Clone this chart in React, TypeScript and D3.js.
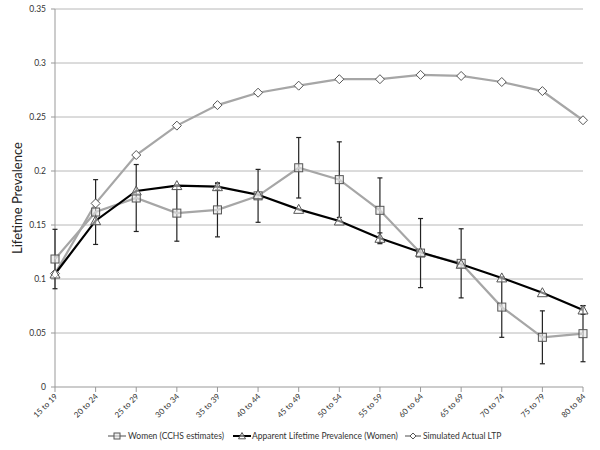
import React from "react";
import * as d3 from "d3";

const categories = ["15 to 19","20 to 24","25 to 29","30 to 34","35 to 39","40 to 44","45 to 49","50 to 54","55 to 59","60 to 64","65 to 69","70 to 74","75 to 79","80 to 84"];
const womenCCHS = [0.1185,0.162,0.175,0.161,0.164,0.177,0.203,0.192,0.1636,0.124,0.1145,0.074,0.046,0.0494];
const womenCCHSErr = [0.0275,0.030,0.031,0.026,0.025,0.0245,0.028,0.035,0.030,0.032,0.032,0.028,0.0245,0.026];
const apparent = [0.1046,0.154,0.1815,0.1865,0.1855,0.178,0.1645,0.1537,0.1377,0.1247,0.1136,0.101,0.0873,0.0713];
const apparentErr = [0,0,0,0,0.003,0,0,0,0.005,0,0,0,0,0.004];
const simulated = [0.105,0.17,0.2148,0.242,0.261,0.2725,0.279,0.285,0.285,0.289,0.288,0.2824,0.274,0.247];
const yTicks = [0,0.05,0.1,0.15,0.2,0.25,0.3,0.35];
const seriesNames = ["Women (CCHS estimates)","Apparent Lifetime Prevalence (Women)","Simulated Actual LTP"];

const W = 600, H = 450;
const left = 55, right = 583, top = 9, bottom = 387;
const font = "Lato, 'Open Sans', sans-serif";

export default function App() {
  const x = d3.scalePoint<string>().domain(categories).range([left, right]);
  const y = d3.scaleLinear().domain([0, 0.35]).range([bottom, top]);
  const line = d3.line<number>().x((_, i) => x(categories[i])!).y(d => y(d));

  const gray = "#a6a6a6";
  const markerStroke = "#555";

  const square = (cx: number, cy: number, k: string, s = 4) => (
    <rect key={k} x={cx - s} y={cy - s} width={2 * s} height={2 * s} fill="#e8e8e8" fillOpacity={0.6} stroke={markerStroke} strokeWidth={1} />
  );
  const triangle = (cx: number, cy: number, k: string, s = 5) => (
    <path key={k} d={`M${cx},${cy - s}L${cx + s},${cy + s * 0.8}L${cx - s},${cy + s * 0.8}Z`} fill="#fff" fillOpacity={0.5} stroke={markerStroke} strokeWidth={1} />
  );
  const diamond = (cx: number, cy: number, k: string, s = 4.5) => (
    <path key={k} d={`M${cx},${cy - s}L${cx + s},${cy}L${cx},${cy + s}L${cx - s},${cy}Z`} fill="#fff" stroke={markerStroke} strokeWidth={1} />
  );

  const errBar = (i: number, v: number, e: number, k: string, color: string) => {
    if (!e) return null;
    const cx = x(categories[i])!;
    const y1 = y(v + e), y2 = y(v - e);
    return (
      <g key={k} stroke={color} strokeWidth={1.2}>
        <line x1={cx} x2={cx} y1={y1} y2={y2} />
        <line x1={cx - 2.5} x2={cx + 2.5} y1={y1} y2={y1} />
        <line x1={cx - 2.5} x2={cx + 2.5} y1={y2} y2={y2} />
      </g>
    );
  };

  const legendY = 436;
  return (
    <svg width={W} height={H} style={{ position: "absolute", left: 0, top: 0, background: "#fff" }} fontFamily={font}>
      <rect width={W} height={H} fill="#fff" />
      {yTicks.map(t => (
        <g key={"g" + t}>
          {t > 0 && <line x1={left} x2={right} y1={y(t)} y2={y(t)} stroke="#b8b8b8" strokeWidth={1} />}
          <line x1={left - 4} x2={left} y1={y(t)} y2={y(t)} stroke="#999" />
          <text x={46} y={y(t) + 3} textAnchor="end" fontSize={8.5} fill="#333">{String(t)}</text>
        </g>
      ))}
      <line x1={left} x2={left} y1={top} y2={bottom} stroke="#999" />
      <line x1={left} x2={right} y1={bottom} y2={bottom} stroke="#999" />
      {categories.map(c => (
        <g key={c}>
          <line x1={x(c)!} x2={x(c)!} y1={bottom} y2={bottom + 5} stroke="#999" />
          <text transform={`translate(${x(c)! + 3},${bottom + 10}) rotate(-45)`} textAnchor="end" fontSize={8} fill="#333">{c}</text>
        </g>
      ))}
      <text transform={`translate(22,${(top + bottom) / 2}) rotate(-90)`} textAnchor="middle" fontSize={13} fill="#222">Lifetime Prevalence</text>

      {womenCCHS.map((v, i) => errBar(i, v, womenCCHSErr[i], "e1" + i, "#222"))}
      <path d={line(simulated)!} fill="none" stroke={gray} strokeWidth={2.2} />
      <path d={line(womenCCHS)!} fill="none" stroke={gray} strokeWidth={2.2} />
      <path d={line(apparent)!} fill="none" stroke="#000" strokeWidth={2.2} />
      {apparent.map((v, i) => errBar(i, v, apparentErr[i], "e2" + i, "#222"))}
      {simulated.map((v, i) => diamond(x(categories[i])!, y(v), "d" + i))}
      {womenCCHS.map((v, i) => square(x(categories[i])!, y(v), "s" + i))}
      {apparent.map((v, i) => triangle(x(categories[i])!, y(v), "t" + i))}

      <g>
        <line x1={108} x2={126} y1={legendY} y2={legendY} stroke={gray} strokeWidth={2} />
        {square(117, legendY, "ls", 3)}
        <text x={128} y={legendY + 3} fontSize={8.5} fill="#333">{seriesNames[0]}</text>
        <line x1={233} x2={251} y1={legendY} y2={legendY} stroke="#000" strokeWidth={2} />
        {triangle(242, legendY, "lt", 3.5)}
        <text x={252} y={legendY + 3} fontSize={8.5} fill="#333">{seriesNames[1]}</text>
        <line x1={405} x2={421} y1={legendY} y2={legendY} stroke={gray} strokeWidth={2} />
        {diamond(413, legendY, "ld", 3)}
        <text x={423} y={legendY + 3} fontSize={8.5} fill="#333">{seriesNames[2]}</text>
      </g>
    </svg>
  );
}
